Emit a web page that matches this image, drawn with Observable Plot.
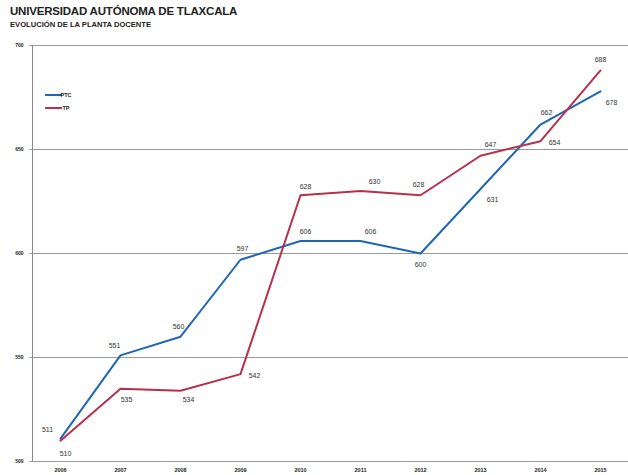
<!DOCTYPE html>
<html>
<head>
<meta charset="utf-8">
<script src="https://cdn.jsdelivr.net/npm/d3@7"></script>
<script src="https://cdn.jsdelivr.net/npm/@observablehq/plot@0.6"></script>
<style>
  html, body { margin: 0; padding: 0; background: #fff; }
  #wrap { width: 628px; height: 475px; position: relative; overflow: hidden; font-family: "Liberation Sans Narrow", "Liberation Sans", Arial, sans-serif; }
  #title { position: absolute; left: 10px; top: 5px; font-size: 11.5px; font-weight: bold; color: #222; letter-spacing: -0.2px; white-space: nowrap; }
  #subtitle { position: absolute; left: 10px; top: 19.5px; font-size: 7.6px; font-weight: bold; color: #222; white-space: nowrap; }
  #chart { position: absolute; left: 0; top: 34px; }
</style>
</head>
<body>
<div id="wrap">
  <div id="title">UNIVERSIDAD AUTÓNOMA DE TLAXCALA</div>
  <div id="subtitle">EVOLUCIÓN DE LA PLANTA DOCENTE</div>
  <div id="chart"></div>
</div>
<script>
const years = [2006, 2007, 2008, 2009, 2010, 2011, 2012, 2013, 2014, 2015];
const ptc = [511, 551, 560, 597, 606, 606, 600, 631, 662, 678];
const tp  = [510, 535, 534, 542, 628, 630, 628, 647, 654, 688];
const seriesNames = ["PTC", "TP"];
const yTicks = [500, 550, 600, 650, 700];

const colors = {PTC: "#1f67b5", TP: "#b8304a"};

const rows = [];
years.forEach((yr, i) => {
  rows.push({year: yr, value: ptc[i], series: "PTC", i});
  rows.push({year: yr, value: tp[i], series: "TP", i});
});

// label offsets (presentation only)
const labelOffsets = {
  PTC: [[-13,-9],[-6,-10],[-2,-10],[2,-11],[5,-9],[10,-9],[0,11],[12,11],[6,-12],[11,11]],
  TP:  [[5,13],[6,11],[8,9],[14,2],[5,-9],[14,-9],[-2,-11],[10,-11],[14,2],[0,-11]]
};

const W = 628, H = 441, ML = 32, MT = 11, MB = 14, PAD = 0.45;
const marks = [
  Plot.ruleY(yTicks, {stroke: "#9a9a9a", strokeWidth: 1, insetLeft: -3}),
  Plot.axisY({ticks: yTicks, tickSize: 0, tickPadding: 9, label: null, fontSize: 5, fontWeight: "bold", fill: "#222"}),
  Plot.axisX({tickSize: 0, tickPadding: 7, label: null, fontSize: 5.5, fontWeight: "bold", fill: "#222", tickFormat: d => String(d)}),
  Plot.line(rows, {x: "year", y: "value", z: "series", stroke: d => colors[d.series], strokeWidth: 2, strokeLinejoin: "round"}),
];
rows.forEach(r => {
  const [dx, dy] = labelOffsets[r.series][r.i];
  marks.push(Plot.text([r], {x: "year", y: "value", text: d => String(d.value), dx, dy, fontSize: 7, fill: "#333", fontFamily: "Liberation Sans Narrow, Liberation Sans, Arial, sans-serif"}));
});

const plot = Plot.plot({
  width: W,
  height: H,
  marginLeft: ML,
  marginRight: 0,
  marginTop: MT,
  marginBottom: MB,
  style: {fontFamily: "Liberation Sans Narrow, Liberation Sans, Arial, sans-serif", background: "#fff", overflow: "visible"},
  x: {type: "point", domain: years, padding: PAD},
  y: {domain: [500, 700]},
  marks
});

const svg = d3.select(plot);
// left axis line
const ys = plot.scale("y");
svg.append("line")
  .attr("x1", ML + 0.5).attr("x2", ML + 0.5)
  .attr("y1", ys.apply(yTicks[yTicks.length - 1])).attr("y2", ys.apply(yTicks[0]))
  .attr("stroke", "#8a8a8a").attr("stroke-width", 1);

// Legend inside the plot
const leg = svg.append("g");
seriesNames.forEach((s, k) => {
  const yy = 61 + k * 13;
  leg.append("line").attr("x1", 45).attr("x2", 62).attr("y1", yy).attr("y2", yy)
    .attr("stroke", colors[s]).attr("stroke-width", 2);
  leg.append("text").attr("x", 66).attr("y", yy).attr("dy", "0.35em")
    .attr("font-size", 5.5).attr("font-weight", "bold").attr("fill", "#222").text(s);
});

document.getElementById("chart").appendChild(plot);
</script>
</body>
</html>
